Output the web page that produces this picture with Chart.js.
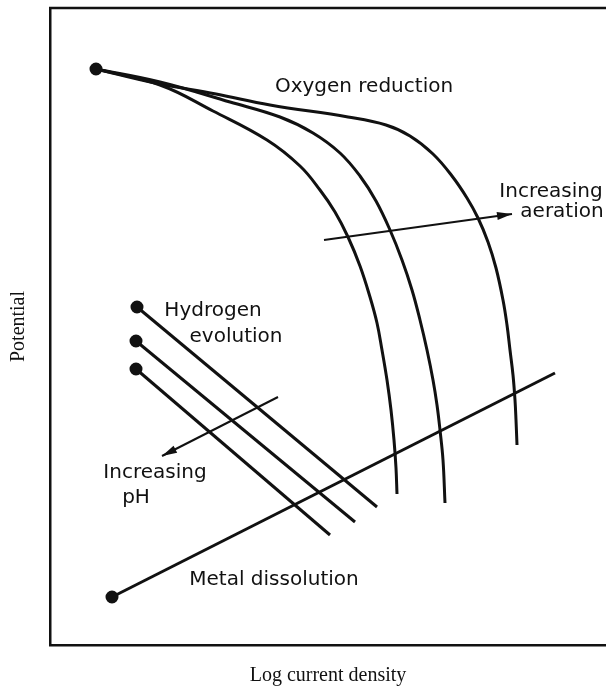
<!DOCTYPE html>
<html>
<head>
<meta charset="utf-8">
<script src="https://cdn.jsdelivr.net/npm/chart.js@4/dist/chart.umd.min.js"></script>
<style>
  body { margin: 0; background: #fff; }
  canvas { display: block; }
</style>
</head>
<body>
<canvas id="canvas" width="606" height="688"></canvas>
<script>
// schematic polarisation diagram, units are arbitrary
var oxygen1X = [46, 110, 163, 217, 250, 270, 285, 298, 310, 320, 327, 332, 337, 341, 344, 346, 347];
var oxygen1Y = [576, 560, 534, 505, 479, 455, 433, 408, 379, 348, 322, 295, 265, 235, 205, 177, 151];
var oxygen2X = [46, 110, 180, 230, 263, 290, 310, 326, 340, 352, 362, 370, 377, 383, 387, 390, 393, 395];
var oxygen2Y = [576, 563, 543, 528, 512, 492, 469, 444, 415, 385, 355, 325, 295, 265, 240, 215, 185, 142];
var oxygen3X = [46, 105, 166, 220, 298, 336, 360, 383, 402, 417, 428, 438, 446, 453, 457, 460, 463, 465, 466, 467];
var oxygen3Y = [576, 562, 551, 540, 528, 520, 509, 491, 469, 447, 427, 403, 377, 345, 320, 295, 270, 245, 225, 200];

var hydrogen1X = [87, 327];
var hydrogen1Y = [338, 138];
var hydrogen2X = [86, 305];
var hydrogen2Y = [304, 123];
var hydrogen3X = [86, 280];
var hydrogen3Y = [276, 110];

var metalX = [62, 505];
var metalY = [48, 272];

var aerationArrowX = [274, 462];
var aerationArrowY = [405, 431];
var phArrowX = [228, 112];
var phArrowY = [248, 189];

// text written on the plot
var notes = [
  { text: 'Oxygen reduction', x: 314, y: 558 },
  { text: 'Increasing', x: 501, y: 453 },
  { text: 'aeration', x: 512, y: 433 },
  { text: 'Hydrogen', x: 163, y: 334 },
  { text: 'evolution', x: 186, y: 308 },
  { text: 'Increasing', x: 105, y: 172 },
  { text: 'pH', x: 86, y: 147 },
  { text: 'Metal dissolution', x: 224, y: 65 }
];

function pts(xs, ys) {
  return xs.map(function(x, i) { return { x: x, y: ys[i] }; });
}

function curve(xs, ys, dot, extra) {
  var ds = {
    data: pts(xs, ys),
    showLine: true,
    borderColor: '#111',
    backgroundColor: '#111',
    borderWidth: 3,
    tension: 0,
    pointRadius: function(ctx) { return dot && ctx.dataIndex === 0 ? 5 : 0; },
    pointHoverRadius: 0
  };
  return Object.assign(ds, extra || {});
}

var frame = {
  id: 'frame',
  beforeDatasetsDraw: function(chart) {
    var a = chart.chartArea, ctx = chart.ctx;
    ctx.save();
    ctx.strokeStyle = '#111';
    ctx.lineWidth = 2.5;
    ctx.beginPath();
    ctx.moveTo(a.left - 1, a.top);
    ctx.lineTo(a.right, a.top);
    ctx.stroke();
    ctx.restore();
  }
};

var arrows = {
  id: 'arrows',
  afterDatasetsDraw: function(chart) {
    var ctx = chart.ctx;
    chart.data.datasets.forEach(function(ds, i) {
      if (!ds.arrow) return;
      var el = chart.getDatasetMeta(i).data;
      var p0 = el[el.length - 2], p1 = el[el.length - 1];
      var ang = Math.atan2(p1.y - p0.y, p1.x - p0.x);
      ctx.save();
      ctx.translate(p1.x, p1.y);
      ctx.rotate(ang);
      ctx.fillStyle = '#111';
      ctx.beginPath();
      ctx.moveTo(0, 0);
      ctx.lineTo(-15, -4);
      ctx.lineTo(-15, 4);
      ctx.closePath();
      ctx.fill();
      ctx.restore();
    });
  }
};

var texts = {
  id: 'texts',
  afterDatasetsDraw: function(chart) {
    var ctx = chart.ctx, sx = chart.scales.x, sy = chart.scales.y;
    ctx.save();
    ctx.fillStyle = '#111';
    ctx.font = '20px "DejaVu Sans"';
    ctx.textAlign = 'center';
    ctx.textBaseline = 'middle';
    notes.forEach(function(n) {
      ctx.fillText(n.text, sx.getPixelForValue(n.x), sy.getPixelForValue(n.y));
    });
    ctx.restore();
  }
};

var ctx = document.getElementById('canvas').getContext('2d');
var myChart = new Chart(ctx, {
  type: 'scatter',
  data: {
    datasets: [
      curve(oxygen1X, oxygen1Y, true, { tension: 0.4 }),
      curve(oxygen2X, oxygen2Y, false, { tension: 0.4 }),
      curve(oxygen3X, oxygen3Y, false, { tension: 0.4 }),
      curve(hydrogen1X, hydrogen1Y, true),
      curve(hydrogen2X, hydrogen2Y, true),
      curve(hydrogen3X, hydrogen3Y, true),
      curve(metalX, metalY, true),
      curve(aerationArrowX, aerationArrowY, false, { borderWidth: 2, arrow: true }),
      curve(phArrowX, phArrowY, false, { borderWidth: 2, arrow: true })
    ]
  },
  options: {
    responsive: false,
    animation: false,
    layout: { autoPadding: false, padding: { top: 8, right: 0, bottom: 0, left: 0 } },
    plugins: {
      legend: { display: false },
      tooltip: { enabled: false }
    },
    scales: {
      x: {
        type: 'linear',
        min: 0,
        max: 556,
        grid: { display: false, drawTicks: false },
        ticks: { display: false },
        border: { display: true, color: '#111', width: 2.5 },
        title: {
          display: true,
          text: 'Log current density',
          color: '#111',
          font: { family: '"Liberation Serif"', size: 20 },
          padding: { top: 19, bottom: 0 }
        }
      },
      y: {
        type: 'linear',
        min: 0,
        max: 637,
        grid: { display: false, drawTicks: false },
        ticks: { display: false },
        border: { display: true, color: '#111', width: 2.5 },
        title: {
          display: true,
          text: 'Potential',
          color: '#111',
          font: { family: '"Liberation Serif"', size: 20 },
          padding: { top: 7, bottom: 19 }
        }
      }
    }
  },
  plugins: [frame, arrows, texts]
});
</script>
</body>
</html>
